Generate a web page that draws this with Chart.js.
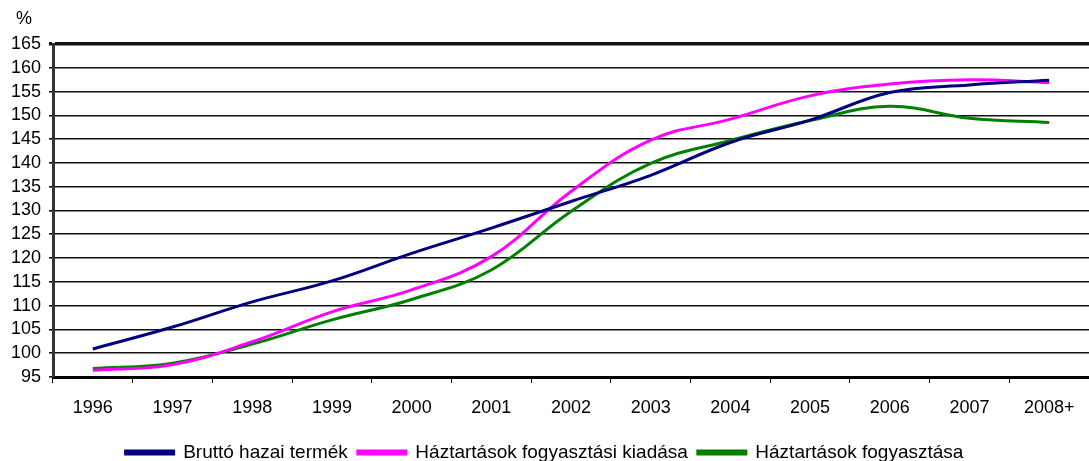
<!DOCTYPE html>
<html lang="hu">
<head>
    <meta charset="UTF-8">
    <title>GDP és háztartási fogyasztás</title>
    <script src="https://cdn.jsdelivr.net/npm/chart.js"></script>
    <style>
        html, body { margin: 0; padding: 0; background: #ffffff; }
        #wrap { width: 1089px; height: 461px; position: relative; }
    </style>
</head>
<body>
    <div id="wrap"><canvas id="chart"></canvas></div>

    <script>
        // Évek (kategóriák)
        const years = ['1996', '1997', '1998', '1999', '2000', '2001', '2002', '2003', '2004', '2005', '2006', '2007', '2008+'];

        // Értékek, % (leolvasva az ábráról)
        const gdp = [100.9, 105.5, 110.8, 115.2, 121.0, 126.3, 131.9, 137.4, 144.3, 149.0, 154.8, 156.4, 157.4];
        const hhSpending = [96.4, 97.6, 102.4, 108.7, 113.3, 120.3, 134.0, 144.8, 149.2, 154.1, 156.6, 157.5, 156.9];
        const hhConsumption = [96.8, 97.9, 101.9, 107.0, 111.3, 117.5, 129.8, 139.9, 144.7, 148.9, 151.9, 149.4, 148.5];

        const yTicks = [95, 100, 105, 110, 115, 120, 125, 130, 135, 140, 145, 150, 155, 160, 165];

        const font = { family: 'Arial, "Liberation Sans", sans-serif', size: 18 };

        // "%" felirat a bal felső sarokban
        const unitLabel = {
            id: 'unitLabel',
            afterDraw(chart) {
                const c = chart.ctx;
                c.save();
                c.font = '18px Arial, "Liberation Sans", sans-serif';
                c.fillStyle = '#000';
                c.textBaseline = 'middle';
                c.fillText('%', 16, 19);
                c.restore();
            }
        };

        const mkSet = (label, data, color) => ({
            label: label,
            data: data,
            borderColor: color,
            backgroundColor: color,
            borderWidth: 3,
            pointRadius: 0,
            tension: 0.4,
            fill: false
        });

        new Chart(document.getElementById('chart'), {
            type: 'line',
            data: {
                labels: years,
                datasets: [
                    mkSet('Bruttó hazai termék', gdp, '#000080'),
                    mkSet('Háztartások fogyasztási kiadása', hhSpending, '#ff00ff'),
                    mkSet('Háztartások fogyasztása', hhConsumption, '#008000')
                ]
            },
            options: {
                responsive: true,
                maintainAspectRatio: false,
                animation: false,
                layout: { padding: { top: 44, right: 0, left: 0, bottom: -11 } },
                plugins: {
                    tooltip: { enabled: false },
                    legend: {
                        position: 'bottom',
                        labels: {
                            font: { family: font.family, size: 19 },
                            color: '#000',
                            boxWidth: 48,
                            boxHeight: 3,
                            padding: 10
                        }
                    }
                },
                scales: {
                    x: {
                        offset: true,
                        grid: {
                            offset: true,
                            drawOnChartArea: false,
                            drawTicks: true,
                            tickLength: 6,
                            color: '#000'
                        },
                        border: { display: true, color: '#000', width: 3 },
                        ticks: { font: font, color: '#000', padding: 14, maxRotation: 0, autoSkip: false },
                        afterFit: (s) => { s.height = 56; }
                    },
                    y: {
                        min: 95,
                        max: 165,
                        afterBuildTicks: (s) => { s.ticks = yTicks.map(v => ({ value: v })); },
                        grid: {
                            color: '#111',
                            lineWidth: (c) => (c.tick && c.tick.value === 165 ? 3.5 : 1.6),
                            tickLength: 4
                        },
                        border: { display: true, color: '#333', width: 3 },
                        ticks: { font: font, color: '#000', padding: 8, autoSkip: false },
                        afterFit: (s) => { s.width = 53; }
                    }
                }
            },
            plugins: [unitLabel]
        });
    </script>
</body>
</html>
